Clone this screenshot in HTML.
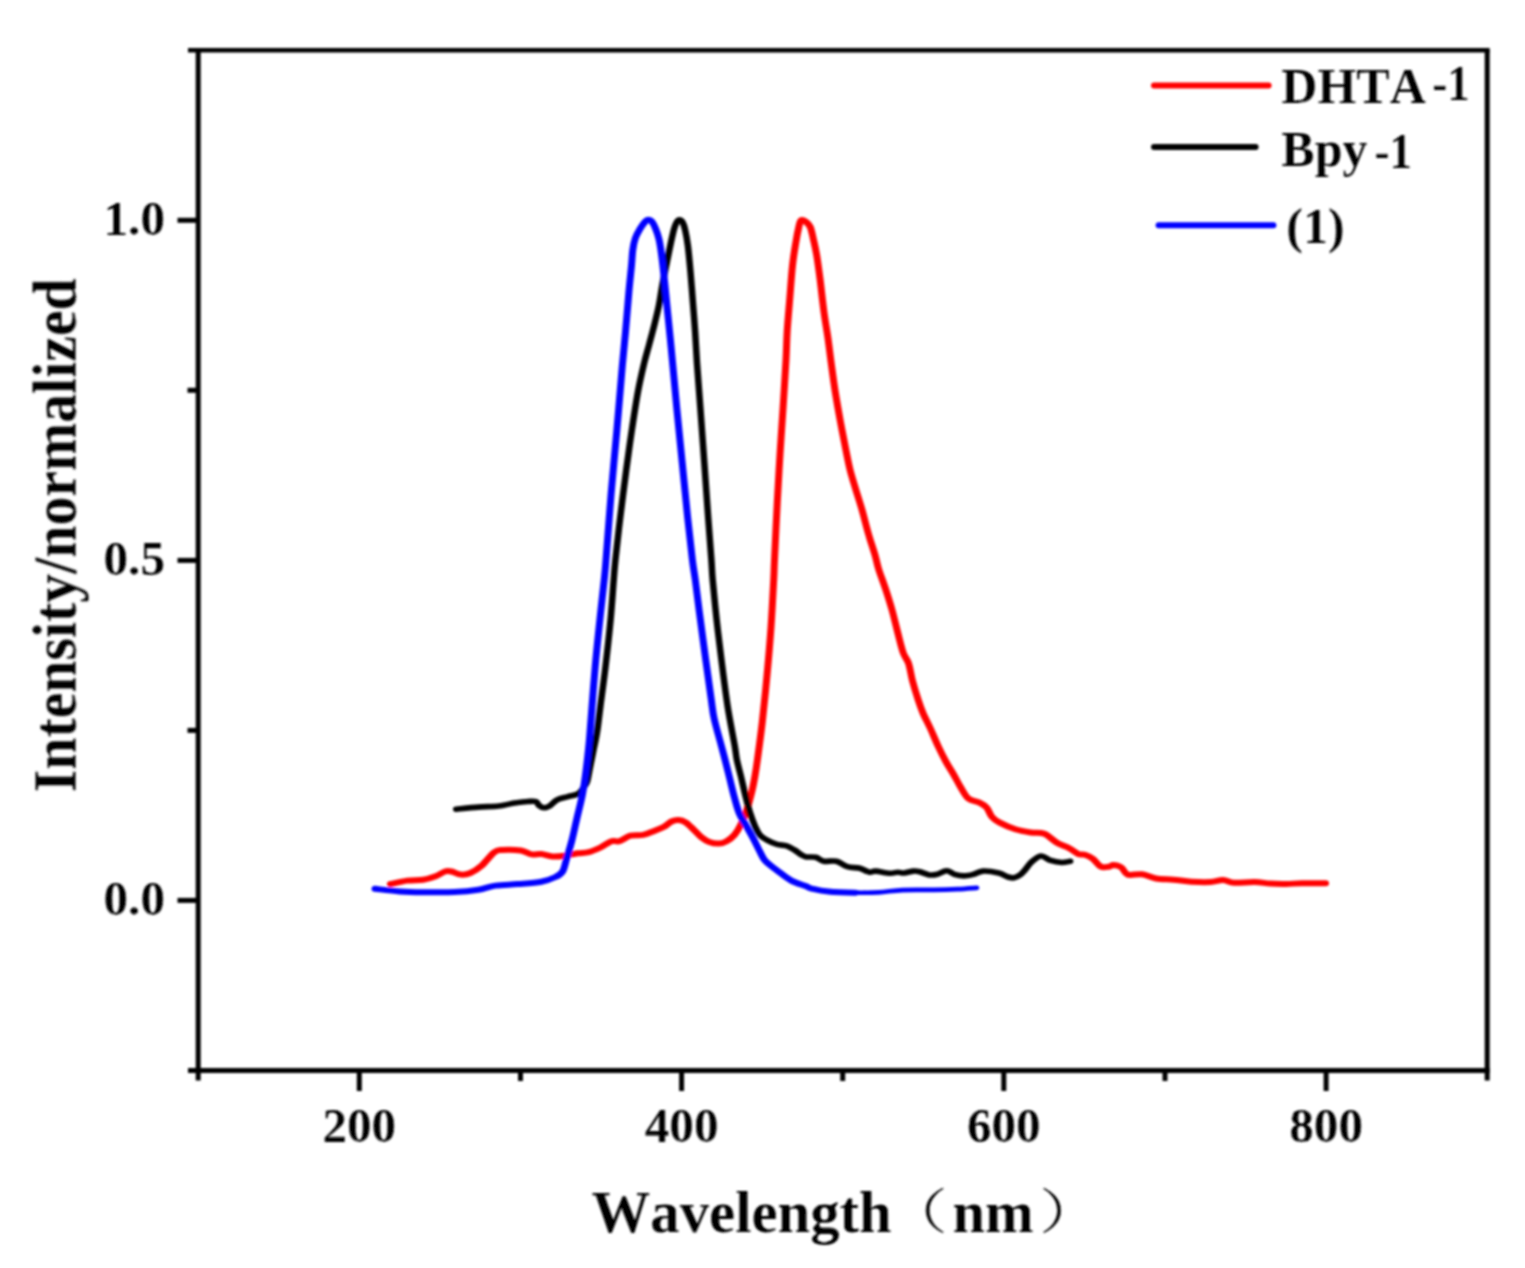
<!DOCTYPE html>
<html lang="en"><head><meta charset="utf-8"><title>Normalized emission spectra</title>
<style>
html,body{margin:0;padding:0;background:#fff;}
body{width:1525px;height:1268px;overflow:hidden;}
svg{display:block;}
text{font-kerning:none;font-family:"Liberation Serif","Noto Serif CJK SC",serif;font-weight:bold;fill:#000;stroke:#fff;stroke-width:0.1px;stroke-linejoin:round;}
.ax{stroke:#000;fill:none;stroke-linecap:butt;}
.cv{fill:none;stroke-linecap:round;stroke-linejoin:round;}
</style></head><body>
<svg width="1525" height="1268" viewBox="0 0 1525 1268">
<defs><filter id="soft" x="0" y="0" width="1525" height="1268" filterUnits="userSpaceOnUse"><feGaussianBlur stdDeviation="0.8"/></filter></defs>
<rect x="0" y="0" width="1525" height="1268" fill="#fff"/>
<g filter="url(#soft)">
<g class="ax" stroke-width="5.0">
<line x1="188" y1="50.3" x2="1489.7" y2="50.3" stroke-width="4.4"/>
<line x1="188" y1="1070.4" x2="1489.7" y2="1070.4"/>
<line x1="198.2" y1="50.3" x2="198.2" y2="1080.5"/>
<line x1="1487.2" y1="50.3" x2="1487.2" y2="1080.5"/>
<line x1="359.3" y1="1070.4" x2="359.3" y2="1091"/>
<line x1="681.6" y1="1070.4" x2="681.6" y2="1091"/>
<line x1="1003.8" y1="1070.4" x2="1003.8" y2="1091"/>
<line x1="1326.1" y1="1070.4" x2="1326.1" y2="1091"/>
<line x1="520.5" y1="1070.4" x2="520.5" y2="1081"/>
<line x1="842.7" y1="1070.4" x2="842.7" y2="1081"/>
<line x1="1165.0" y1="1070.4" x2="1165.0" y2="1081"/>
<line x1="177.5" y1="900.4" x2="198.2" y2="900.4"/>
<line x1="177.5" y1="560.4" x2="198.2" y2="560.4"/>
<line x1="177.5" y1="220.3" x2="198.2" y2="220.3"/>
<line x1="187.5" y1="730.4" x2="198.2" y2="730.4"/>
<line x1="187.5" y1="390.3" x2="198.2" y2="390.3"/>
</g>
<g font-size="49.2">
<text x="359.3" y="1141.8" text-anchor="middle">200</text>
<text x="681.6" y="1141.8" text-anchor="middle">400</text>
<text x="1003.8" y="1141.8" text-anchor="middle">600</text>
<text x="1326.1" y="1141.8" text-anchor="middle">800</text>
<text x="165" y="915.2" text-anchor="end">0.0</text>
<text x="165" y="575.2" text-anchor="end">0.5</text>
<text x="165" y="235.1" text-anchor="end">1.0</text>
</g>
<text id="xl" font-size="59.4"><tspan x="591.6" y="1232.0" textLength="300.2" lengthAdjust="spacingAndGlyphs">Wavelength</tspan><tspan x="884.2" y="1228.4" font-size="48.3" style="font-weight:normal" textLength="63.6" lengthAdjust="spacingAndGlyphs">（</tspan><tspan x="952.6" y="1232.2" font-size="58.2" textLength="81.2" lengthAdjust="spacingAndGlyphs">nm</tspan><tspan x="1039.0" y="1228.4" font-size="48.3" style="font-weight:normal" textLength="63.6" lengthAdjust="spacingAndGlyphs">）</tspan></text>
<text id="yl" transform="translate(75.4,792.3) rotate(-90) scale(0.964,1.016)" font-size="60">Intensity/normalized</text>
<g class="cv" stroke-width="6.0">
<line x1="1154" y1="85.4" x2="1268.6" y2="85.4" stroke="#ff0000"/>
<line x1="1154" y1="147" x2="1255.6" y2="147" stroke="#000"/>
<line x1="1158.6" y1="225.2" x2="1273.4" y2="225.2" stroke="#0000ff"/>
</g>
<g font-size="50">
<text id="l1" x="1281.3" y="103.4">DHTA<tspan x="1432.2" y="99.6" textLength="37.5" lengthAdjust="spacingAndGlyphs">-1</tspan></text>
<text id="l2" x="1281.3" y="166.0">Bpy<tspan x="1374.4" y="167.8" textLength="37.5" lengthAdjust="spacingAndGlyphs">-1</tspan></text>
<text id="l3" x="1286.3" y="242.6">(1)</text>
</g>
<g class="cv" transform="scale(1.160,1)">
<path id="cr" stroke="#ff0000" stroke-width="6.0" d="M336.55,884.00C338.98,883.43 346.42,881.32 351.12,880.60C355.82,879.88 360.66,880.43 364.74,879.70C368.82,878.97 372.44,877.57 375.60,876.20C378.76,874.83 381.44,872.28 383.71,871.50C385.98,870.72 386.95,870.98 389.22,871.50C391.49,872.02 394.61,874.35 397.33,874.60C400.04,874.85 402.57,874.45 405.52,873.00C408.46,871.55 411.61,869.32 415.00,865.90C418.39,862.48 422.92,855.17 425.86,852.50C428.81,849.83 428.82,850.23 432.67,849.90C436.52,849.57 444.66,849.75 448.97,850.50C453.28,851.25 455.59,853.80 458.53,854.40C461.48,855.00 463.69,853.75 466.64,854.10C469.58,854.45 472.80,856.23 476.21,856.50C479.61,856.77 483.45,856.23 487.07,855.70C490.69,855.17 494.54,853.88 497.93,853.30C501.32,852.72 504.12,853.17 507.41,852.20C510.70,851.23 514.38,849.33 517.67,847.50C520.96,845.67 524.44,842.25 527.16,841.20C529.87,840.15 531.24,842.12 533.97,841.20C536.70,840.28 540.13,836.75 543.53,835.70C546.94,834.65 551.01,835.68 554.40,834.90C557.79,834.12 560.93,832.32 563.88,831.00C566.82,829.68 569.57,828.58 572.07,827.00C574.57,825.42 576.74,822.68 578.88,821.50C581.02,820.32 582.89,819.77 584.91,819.90C586.94,820.03 588.88,820.72 591.03,822.30C593.19,823.88 595.57,826.90 597.84,829.40C600.11,831.90 602.39,835.20 604.66,837.30C606.93,839.40 608.97,840.95 611.47,842.00C613.97,843.05 617.17,843.73 619.66,843.60C622.14,843.47 624.12,842.65 626.38,841.20C628.64,839.75 631.15,837.65 633.19,834.90C635.23,832.15 636.81,829.03 638.62,824.70C640.43,820.37 642.46,814.43 644.05,808.90C645.65,803.37 647.05,797.02 648.19,791.50C649.32,785.98 650.07,781.05 650.86,775.80C651.65,770.55 651.88,768.98 652.93,760.00C653.98,751.02 655.76,736.13 657.16,721.90C658.55,707.67 660.04,690.37 661.29,674.60C662.54,658.83 663.71,643.07 664.66,627.30C665.60,611.53 666.48,591.22 666.98,580.00C667.49,568.78 667.16,573.02 667.67,560.00C668.19,546.98 669.30,519.47 670.09,501.90C670.88,484.33 671.58,470.37 672.41,454.60C673.25,438.83 674.22,423.07 675.09,407.30C675.95,391.53 677.00,372.70 677.59,360.00C678.18,347.30 678.07,341.37 678.62,331.10C679.17,320.83 680.10,309.32 680.86,298.40C681.62,287.48 682.34,274.78 683.19,265.60C684.04,256.42 685.01,249.87 685.95,243.30C686.88,236.73 688.03,230.03 688.79,226.20C689.55,222.37 689.57,221.07 690.52,220.30C691.47,219.53 693.16,220.50 694.48,221.60C695.80,222.70 697.33,223.95 698.45,226.90C699.57,229.85 700.27,234.60 701.21,239.30C702.14,244.00 703.10,248.53 704.05,255.10C705.00,261.67 705.86,269.30 706.90,278.70C707.93,288.10 709.12,301.67 710.26,311.50C711.39,321.33 712.66,329.12 713.71,337.70C714.76,346.28 715.50,354.03 716.55,363.00C717.60,371.97 718.64,381.48 720.00,391.50C721.36,401.52 723.16,413.10 724.74,423.10C726.32,433.10 728.12,443.62 729.48,451.50C730.85,459.38 731.57,464.10 732.93,470.40C734.30,476.70 735.98,482.73 737.67,489.30C739.37,495.87 741.29,502.45 743.10,509.80C744.91,517.15 746.67,525.87 748.53,533.40C750.40,540.93 752.83,549.08 754.31,555.00C755.79,560.92 755.88,563.17 757.41,568.90C758.95,574.63 761.61,582.57 763.53,589.40C765.46,596.23 767.26,602.80 768.97,609.90C770.68,617.00 772.20,624.90 773.79,632.00C775.39,639.10 776.95,647.25 778.53,652.50C780.11,657.75 781.93,658.77 783.28,663.50C784.63,668.23 785.26,674.83 786.64,680.90C788.02,686.97 790.04,694.53 791.55,699.90C793.06,705.27 793.94,708.33 795.69,713.10C797.44,717.87 799.91,723.03 802.07,728.50C804.22,733.97 806.39,740.38 808.62,745.90C810.85,751.42 813.16,756.78 815.43,761.60C817.70,766.42 820.17,770.63 822.24,774.80C824.31,778.97 825.78,782.67 827.84,786.60C829.91,790.53 832.01,795.78 834.66,798.40C837.30,801.02 841.06,800.78 843.71,802.30C846.35,803.82 848.64,805.10 850.52,807.50C852.40,809.90 853.12,814.18 855.00,816.70C856.88,819.22 858.42,820.52 861.81,822.60C865.20,824.68 870.83,827.55 875.34,829.20C879.86,830.85 884.73,831.73 888.88,832.50C893.03,833.27 896.48,832.05 900.26,833.80C904.04,835.55 907.97,840.60 911.55,843.00C915.13,845.40 918.71,846.35 921.72,848.20C924.74,850.05 927.40,853.00 929.66,854.10C931.91,855.20 933.19,854.03 935.26,854.80C937.33,855.57 939.77,856.72 942.07,858.70C944.37,860.68 946.75,865.37 949.05,866.70C951.35,868.03 954.05,866.97 955.86,866.70C957.67,866.43 958.10,864.97 959.91,865.10C961.72,865.23 964.68,865.92 966.72,867.50C968.76,869.08 969.21,873.47 972.16,874.60C975.10,875.73 980.32,873.65 984.40,874.30C988.48,874.95 992.11,877.60 996.64,878.50C1001.16,879.40 1006.47,879.17 1011.55,879.70C1016.64,880.23 1021.82,881.32 1027.16,881.70C1032.49,882.08 1038.99,882.27 1043.53,882.00C1048.07,881.73 1051.01,879.97 1054.40,880.10C1057.79,880.23 1059.35,882.48 1063.88,882.80C1068.41,883.12 1076.34,881.87 1081.55,882.00C1086.77,882.13 1090.65,883.28 1095.17,883.60C1099.70,883.92 1104.18,883.95 1108.71,883.90C1113.23,883.85 1116.65,883.40 1122.33,883.30C1128.00,883.20 1139.35,883.30 1142.76,883.30"/>
<path id="ck" stroke="#000000" stroke-width="5.6" d="M393.28,809.20C396.45,808.85 406.21,807.63 412.33,807.10C418.45,806.57 424.80,806.70 430.00,806.00C435.20,805.30 440.49,803.52 443.53,802.90C446.58,802.28 446.35,802.53 448.28,802.30C450.20,802.07 452.82,801.63 455.09,801.50C457.36,801.37 460.32,800.85 461.90,801.50C463.48,802.15 463.43,804.35 464.57,805.40C465.70,806.45 467.23,807.67 468.71,807.80C470.19,807.93 471.52,807.52 473.45,806.20C475.37,804.88 477.66,801.47 480.26,799.90C482.86,798.33 486.22,797.72 489.05,796.80C491.88,795.88 495.33,795.28 497.24,794.40C499.15,793.52 499.54,792.65 500.52,791.50C501.49,790.35 502.18,789.08 503.10,787.50C504.02,785.92 505.22,784.75 506.03,782.00C506.85,779.25 507.39,774.57 508.02,771.00C508.65,767.43 509.22,764.10 509.83,760.60C510.43,757.10 511.03,753.43 511.64,750.00C512.24,746.57 512.89,743.33 513.45,740.00C514.01,736.67 514.31,735.65 515.00,730.00C515.69,724.35 516.42,716.65 517.59,706.10C518.75,695.55 520.52,681.15 521.98,666.70C523.45,652.25 525.20,633.85 526.38,619.40C527.56,604.95 528.36,589.90 529.05,580.00C529.74,570.10 529.58,570.38 530.52,560.00C531.45,549.62 533.10,532.63 534.66,517.70C536.21,502.77 538.18,484.85 539.83,470.40C541.48,455.95 542.87,444.15 544.57,431.00C546.26,417.85 548.20,402.83 550.00,391.50C551.80,380.17 553.74,370.87 555.34,363.00C556.95,355.13 558.19,350.70 559.66,344.30C561.12,337.90 562.73,331.17 564.14,324.60C565.55,318.03 566.97,311.47 568.10,304.90C569.24,298.33 569.91,291.75 570.95,285.20C571.98,278.65 573.18,272.15 574.31,265.60C575.45,259.05 576.62,252.02 577.76,245.90C578.89,239.78 580.19,232.83 581.12,228.90C582.05,224.97 582.61,223.80 583.36,222.30C584.11,220.80 584.76,219.90 585.60,219.90C586.45,219.90 587.60,220.58 588.45,222.30C589.30,224.02 589.93,226.27 590.69,230.20C591.45,234.13 592.26,238.92 593.02,245.90C593.78,252.88 594.51,262.27 595.26,272.10C596.01,281.93 596.84,295.07 597.50,304.90C598.16,314.73 598.66,321.42 599.22,331.10C599.78,340.78 600.11,350.30 600.86,363.00C601.61,375.70 602.66,390.72 603.71,407.30C604.76,423.88 606.02,444.10 607.16,462.50C608.29,480.90 609.50,501.45 610.52,517.70C611.54,533.95 612.63,549.62 613.28,560.00C613.92,570.38 613.65,570.10 614.40,580.00C615.14,589.90 616.52,606.27 617.76,619.40C618.99,632.53 620.23,644.35 621.81,658.80C623.39,673.25 625.32,691.63 627.24,706.10C629.17,720.57 632.03,736.62 633.36,745.60C634.70,754.58 634.38,754.97 635.26,760.00C636.14,765.03 637.37,769.75 638.62,775.80C639.87,781.85 641.39,790.00 642.76,796.30C644.12,802.60 645.46,808.62 646.81,813.60C648.16,818.58 649.50,822.65 650.86,826.20C652.23,829.75 653.19,832.53 655.00,834.90C656.81,837.27 659.24,838.82 661.72,840.40C664.21,841.98 667.18,843.48 669.91,844.40C672.64,845.32 675.62,844.98 678.10,845.90C680.59,846.82 682.76,848.45 684.83,849.90C686.90,851.35 688.81,853.43 690.52,854.60C692.23,855.77 692.96,856.45 695.09,856.90C697.21,857.35 700.78,856.58 703.28,857.30C705.78,858.02 707.14,860.55 710.09,861.20C713.03,861.85 717.56,860.28 720.95,861.20C724.34,862.12 727.04,865.52 730.43,866.70C733.82,867.88 738.12,867.38 741.29,868.30C744.47,869.22 747.21,871.73 749.48,872.20C751.75,872.67 751.97,870.92 754.91,871.10C757.86,871.28 763.98,873.12 767.16,873.30C770.33,873.48 771.93,872.25 773.97,872.20C776.01,872.15 777.14,873.18 779.40,873.00C781.65,872.82 785.24,871.30 787.50,871.10C789.76,870.90 790.66,871.17 792.93,871.80C795.20,872.43 798.62,874.48 801.12,874.90C803.62,875.32 805.45,875.00 807.93,874.30C810.42,873.60 813.55,870.70 816.03,870.70C818.52,870.70 820.34,873.43 822.84,874.30C825.34,875.17 828.32,875.90 831.03,875.90C833.75,875.90 836.42,875.10 839.14,874.30C841.85,873.50 843.69,871.32 847.33,871.10C850.96,870.88 857.33,872.02 860.95,873.00C864.57,873.98 866.85,876.20 869.05,877.00C871.25,877.80 872.36,878.20 874.14,877.80C875.92,877.40 878.16,875.90 879.74,874.60C881.32,873.30 882.04,872.10 883.62,870.00C885.20,867.90 886.93,864.33 889.22,862.00C891.52,859.67 894.68,856.27 897.41,856.00C900.14,855.73 902.66,859.32 905.60,860.40C908.55,861.48 912.26,862.35 915.09,862.50C917.92,862.65 921.34,861.50 922.59,861.30"/>
<path id="cb" stroke="#0000ff" stroke-width="6.0" d="M323.28,888.80C326.78,889.23 337.40,890.83 344.31,891.40C351.22,891.97 356.81,892.08 364.74,892.20C372.67,892.32 383.97,892.50 391.90,892.10C399.83,891.70 406.44,890.88 412.33,889.80C418.22,888.72 421.58,886.55 427.24,885.60C432.90,884.65 439.73,884.75 446.29,884.10C452.86,883.45 461.21,882.88 466.64,881.70C472.07,880.52 475.82,878.70 478.88,877.00C481.94,875.30 483.41,874.53 485.00,871.50C486.59,868.47 487.10,864.05 488.45,858.80C489.80,853.55 491.64,846.67 493.10,840.00C494.57,833.33 495.76,826.27 497.24,818.80C498.72,811.33 500.75,802.42 501.98,795.20C503.22,787.98 503.86,782.07 504.66,775.50C505.45,768.93 506.15,761.72 506.72,755.80C507.30,749.88 507.67,745.65 508.10,740.00C508.53,734.35 508.48,734.12 509.31,721.90C510.14,709.68 511.80,683.78 513.10,666.70C514.41,649.62 515.86,633.85 517.16,619.40C518.45,604.95 519.99,589.90 520.86,580.00C521.74,570.10 521.42,574.33 522.41,560.00C523.41,545.67 525.26,515.50 526.81,494.00C528.36,472.50 530.11,452.33 531.72,431.00C533.33,409.67 535.20,382.65 536.47,366.00C537.73,349.35 538.36,343.47 539.31,331.10C540.26,318.73 541.31,302.72 542.16,291.80C543.00,280.88 543.84,272.60 544.40,265.60C544.96,258.60 544.96,254.40 545.52,249.80C546.08,245.20 546.72,241.48 547.76,238.00C548.79,234.52 550.32,231.63 551.72,228.90C553.13,226.17 555.04,223.13 556.21,221.60C557.37,220.07 557.76,219.70 558.71,219.70C559.66,219.70 560.80,220.07 561.90,221.60C562.99,223.13 564.22,225.95 565.26,228.90C566.29,231.85 567.26,234.93 568.10,239.30C568.95,243.67 569.58,248.53 570.34,255.10C571.11,261.67 571.91,270.40 572.67,278.70C573.43,287.00 574.07,295.07 574.91,304.90C575.76,314.73 576.94,328.02 577.76,337.70C578.58,347.38 578.89,351.40 579.83,363.00C580.76,374.60 581.98,390.72 583.36,407.30C584.74,423.88 586.52,444.10 588.10,462.50C589.68,480.90 591.38,501.45 592.84,517.70C594.31,533.95 595.80,549.62 596.90,560.00C597.99,570.38 598.41,571.42 599.40,580.00C600.39,588.58 601.36,598.37 602.84,611.50C604.32,624.63 606.58,644.33 608.28,658.80C609.97,673.27 611.78,688.30 613.02,698.30C614.25,708.30 614.22,710.92 615.69,718.80C617.16,726.68 620.24,738.73 621.81,745.60C623.38,752.47 623.86,754.45 625.09,760.00C626.31,765.55 627.79,772.60 629.14,778.90C630.49,785.20 631.82,792.02 633.19,797.80C634.55,803.58 635.73,809.12 637.33,813.60C638.92,818.08 640.73,820.50 642.76,824.70C644.78,828.90 647.44,834.33 649.48,838.80C651.52,843.27 653.29,847.82 655.00,851.50C656.71,855.18 657.26,857.75 659.74,860.90C662.23,864.05 666.18,867.12 669.91,870.40C673.65,873.68 678.07,877.98 682.16,880.60C686.24,883.22 691.34,884.73 694.40,886.10C697.46,887.47 697.23,887.88 700.52,888.80C703.81,889.72 708.02,890.95 714.14,891.60C720.26,892.25 730.00,892.58 737.24,892.70"/>
<path id="cb2" stroke="#0000ff" stroke-width="4.7" d="M714.14,891.60C720.26,892.25 730.00,892.58 737.24,892.70C744.48,892.82 750.79,892.73 757.59,892.30C764.38,891.87 770.09,890.50 778.02,890.10C785.95,889.70 797.24,890.07 805.17,889.90C813.10,889.73 819.48,889.45 825.60,889.10C831.72,888.75 839.18,888.02 841.90,887.80"/>
</g>
</g>
</svg></body></html>
